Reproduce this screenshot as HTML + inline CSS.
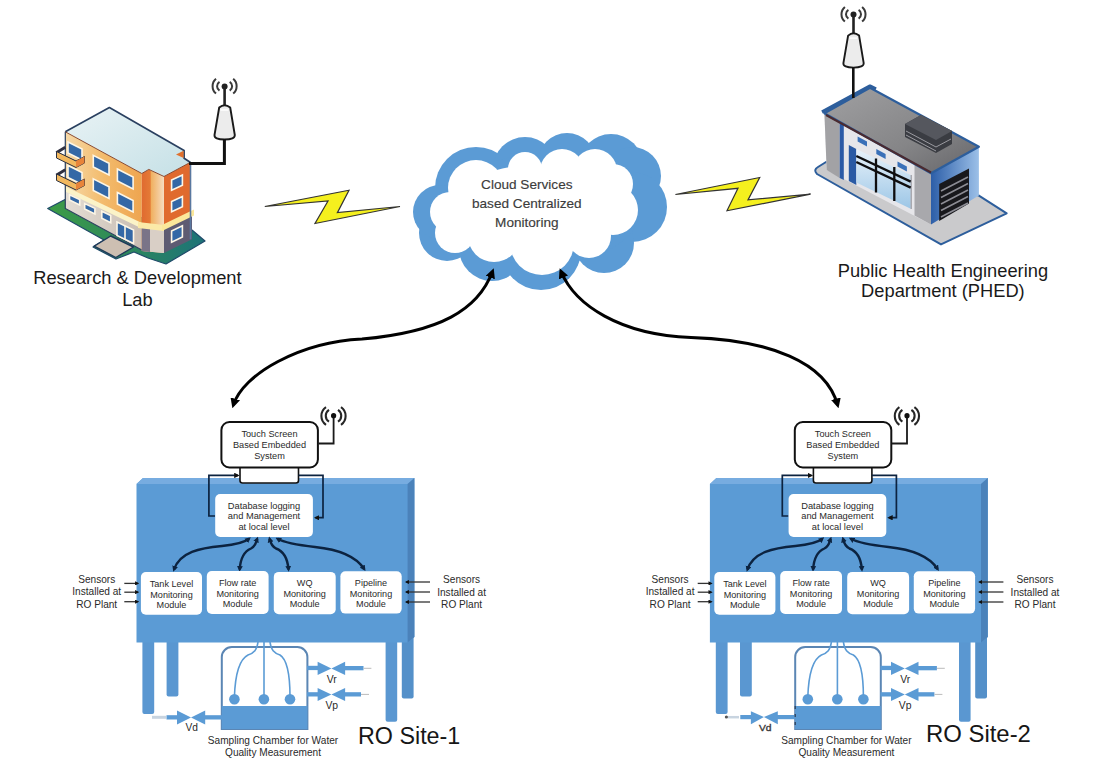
<!DOCTYPE html>
<html><head><meta charset="utf-8">
<style>
html,body{margin:0;padding:0;background:#fff;width:1104px;height:765px;overflow:hidden}
svg{position:absolute;left:0;top:0;display:block}
text{font-family:"Liberation Sans",sans-serif}
</style></head>
<body>
<svg width="1104" height="765" viewBox="0 0 1104 765">
<defs>
<marker id="ah" viewBox="0 0 10 10" refX="6.5" refY="5" markerWidth="3.3" markerHeight="3.3" orient="auto-start-reverse" markerUnits="strokeWidth">
<path d="M0,0 L10,5 L0,10 z" fill="#000"/></marker>
<marker id="ahn" viewBox="0 0 10 10" refX="6" refY="5" markerWidth="2.4" markerHeight="2.6" orient="auto-start-reverse" markerUnits="strokeWidth">
<path d="M0,0 L10,5 L0,10 z" fill="#0c2340"/></marker>
<marker id="ahs" viewBox="0 0 10 10" refX="7" refY="5" markerWidth="3.2" markerHeight="3.2" orient="auto" markerUnits="strokeWidth">
<path d="M0,0 L10,5 L0,10 z" fill="#111"/></marker>


<g id="ant">
  <circle cx="224.6" cy="86.5" r="3" fill="#222"/>
  <path d="M219.5,81.8 A5.2,5.2 0 0 0 219.5,90.6 M229.7,81.8 A5.2,5.2 0 0 1 229.7,90.6 M216,78.8 A9.6,9.6 0 0 0 216,93.5 M233.2,78.8 A9.6,9.6 0 0 1 233.2,93.5" fill="none" stroke="#3a3a3a" stroke-width="2"/>
  <path d="M224.6,86.5 V107" stroke="#222" stroke-width="2.6"/>
  <path d="M219.2,107.5 Q224.6,102.8 230.2,107.5 L234.8,135 Q235,139.5 224.6,139.5 Q214,139.5 214.5,135 Z" fill="#ececec" stroke="#1a1a1a" stroke-width="1.9" stroke-linejoin="round"/>
  <path d="M220.5,110 H228.5" stroke="#fff" stroke-width="1.5"/>
</g>
<linearGradient id="gOr" x1="0" y1="0" x2="1" y2="0"><stop offset="0" stop-color="#f6d9a8"/><stop offset="0.5" stop-color="#f3bb6c"/><stop offset="1" stop-color="#eea550"/></linearGradient>
<linearGradient id="gCol" x1="0" y1="0" x2="1" y2="0"><stop offset="0" stop-color="#e06a30"/><stop offset="0.38" stop-color="#e47a36"/><stop offset="0.42" stop-color="#f0b060"/><stop offset="1" stop-color="#f6dcc0"/></linearGradient>
<linearGradient id="gRoof" x1="0" y1="0" x2="1" y2="1"><stop offset="0" stop-color="#e9f3f5"/><stop offset="1" stop-color="#c5e0e6"/></linearGradient>
<linearGradient id="gGnd" x1="0" y1="0" x2="1" y2="0"><stop offset="0" stop-color="#3d9c45"/><stop offset="0.45" stop-color="#2f8a5a"/><stop offset="1" stop-color="#1d7278"/></linearGradient>
<linearGradient id="gBase" x1="0" y1="0" x2="1" y2="0"><stop offset="0" stop-color="#e4ddd4"/><stop offset="1" stop-color="#c9bdb3"/></linearGradient>
<linearGradient id="gPRoof" x1="0" y1="0" x2="1" y2="1"><stop offset="0" stop-color="#a0a0a2"/><stop offset="0.6" stop-color="#858587"/><stop offset="1" stop-color="#656569"/></linearGradient>
<linearGradient id="gPBlue" x1="0" y1="0" x2="1" y2="0"><stop offset="0" stop-color="#2c5ea8"/><stop offset="1" stop-color="#9cc0e8"/></linearGradient>
<linearGradient id="gGlass" x1="0" y1="0" x2="0" y2="1"><stop offset="0" stop-color="#e8f2fa"/><stop offset="1" stop-color="#9cc6e6"/></linearGradient>

<g id="site">
  <!-- legs -->
  <rect x="142.4" y="640" width="11.8" height="74" rx="2" fill="#5a97d1"/>
  <rect x="166.6" y="640" width="11.8" height="56.5" rx="2" fill="#5a97d1"/>
  <rect x="385.6" y="640" width="11.6" height="81.7" rx="2" fill="#5a97d1"/>
  <rect x="401.8" y="636" width="11.8" height="62.4" rx="2" fill="#5490c9"/>
  <!-- board -->
  <polygon points="136.5,484 143,478 414.4,478 414.4,637 407.6,642.5 136.5,642.5" fill="#5b9bd5"/>
  <polygon points="136.5,484 143,478 414.4,478 407.6,484" fill="#77ace0"/>
  <polygon points="407.6,484 414.4,478 414.4,637 407.6,642.5" fill="#4b82ba"/>

  <!-- touch screen -->
  <rect x="240" y="466" width="58.5" height="17" rx="2.5" fill="#fff" stroke="#111" stroke-width="1.6"/>
  <rect x="221.4" y="422" width="96.5" height="45.5" rx="8" fill="#fff" stroke="#111" stroke-width="2"/>
  <text x="269.5" y="436.5" font-size="9.2" fill="#2a2a2a" text-anchor="middle">Touch Screen</text>
  <text x="269.5" y="447.7" font-size="9.2" fill="#2a2a2a" text-anchor="middle">Based Embedded</text>
  <text x="269.5" y="458.9" font-size="9.2" fill="#2a2a2a" text-anchor="middle">System</text>
  <!-- antenna -->
  <path d="M318.5,443.5 H333.6 V416" fill="none" stroke="#1a1a1a" stroke-width="1.8"/>
  <circle cx="333.6" cy="415.7" r="2.6" fill="#111"/>
  <path d="M329,409.8 A7,7 0 0 0 329,421.6 M338,409.8 A7,7 0 0 1 338,421.6 M326,407.2 A10.7,10.7 0 0 0 326,424.8 M341,407.2 A10.7,10.7 0 0 1 341,424.8" fill="none" stroke="#262626" stroke-width="2.1"/>

  <!-- connectors -->
  <path d="M215,516 H208.9 V475.4 H238" fill="none" stroke="#0c2340" stroke-width="1.7" marker-end="url(#ahs)"/>
  <path d="M298.5,475.4 H323 V517.7 H315.5" fill="none" stroke="#0c2340" stroke-width="1.7" marker-end="url(#ahs)"/>

  <!-- database -->
  <rect x="215.2" y="494" width="97.7" height="43" rx="5" fill="#fff"/>
  <text x="264" y="508.8" font-size="9.3" fill="#2a2a2a" text-anchor="middle">Database logging</text>
  <text x="264" y="519.4" font-size="9.3" fill="#2a2a2a" text-anchor="middle">and Management</text>
  <text x="264" y="529.8" font-size="9.3" fill="#2a2a2a" text-anchor="middle">at local level</text>

  <!-- module arrows -->
  <g fill="none" stroke="#0c2340" stroke-width="2.4" marker-start="url(#ahn)" marker-end="url(#ahn)">
  <path d="M174,569.5 C180,552 200,548 222,546 C238,544.5 245,542 249,538.8"/>
  <path d="M239.7,569.5 C240.5,557 245,551 251,548.5 C256,546 256,542 257.2,538.8"/>
  <path d="M288.5,569.5 C287.5,557 283,551 276,548.5 C271,546 270.5,542 269.6,538.8"/>
  <path d="M364.2,569 C355,555 335,549 315,547 C297,545 285,543 277.5,538.8"/>
  </g>
<!-- modules -->
  <rect x="140.9" y="572" width="61.1" height="42.7" rx="5" fill="#fff"/>
  <rect x="206.8" y="571" width="61.8" height="43" rx="5" fill="#fff"/>
  <rect x="273.8" y="571.9" width="61.9" height="42.3" rx="5" fill="#fff"/>
  <rect x="340.4" y="571.2" width="61.3" height="42.4" rx="5" fill="#fff"/>
  <g font-size="9.1" fill="#2a2a2a" text-anchor="middle">
    <text x="171.5" y="586.7">Tank Level</text><text x="171.5" y="597.5">Monitoring</text><text x="171.5" y="607.8">Module</text>
    <text x="237.7" y="585.8">Flow rate</text><text x="237.7" y="596.6">Monitoring</text><text x="237.7" y="606.9">Module</text>
    <text x="304.7" y="586">WQ</text><text x="304.7" y="596.8">Monitoring</text><text x="304.7" y="607.1">Module</text>
    <text x="371" y="585.8">Pipeline</text><text x="371" y="596.6">Monitoring</text><text x="371" y="606.9">Module</text>
  </g>

  <!-- sensors -->
  <g font-size="10.1" fill="#2a2a2a" text-anchor="middle">
    <text x="96.7" y="582.6">Sensors</text><text x="96.7" y="595.3">Installed at</text><text x="96.7" y="607.6">RO Plant</text>
    <text x="461.6" y="583.1">Sensors</text><text x="461.6" y="595.8">Installed at</text><text x="461.6" y="608.4">RO Plant</text>
  </g>
  <g fill="none" stroke="#333" stroke-width="1.3">
    <path d="M124.3,583.4 H138" marker-end="url(#ahs)"/>
    <path d="M124.3,592.2 H138" marker-end="url(#ahs)"/>
    <path d="M124.3,601.7 H138" marker-end="url(#ahs)"/>
    <path d="M430,582 H406" marker-end="url(#ahs)"/>
    <path d="M430,592 H406" marker-end="url(#ahs)"/>
    <path d="M430,602 H406" marker-end="url(#ahs)"/>
  </g>

  <!-- sampling chamber -->
  <path d="M221.8,729 V657 a10,10 0 0 1 10,-10 H297.4 a10,10 0 0 1 10,10 V729 Z" fill="#fff" stroke="#5b86b4" stroke-width="2"/>
  <rect x="221.8" y="706" width="85.6" height="23" fill="#5b9bd5"/>
  <g fill="none" stroke="#5b9bd5" stroke-width="1.6">
    <path d="M258,642 C257,650 254,653 248,655 C238,660 235,680 234.4,697"/>
    <path d="M264,642 V697"/>
    <path d="M270,642 C271,650 274,653 280,655 C288,660 290,680 290,697"/>
  </g>
  <circle cx="234.4" cy="699.3" r="5.3" fill="#5b9bd5"/>
  <circle cx="263.9" cy="699.3" r="5.3" fill="#5b9bd5"/>
  <circle cx="290" cy="699.3" r="5.3" fill="#5b9bd5"/>

  <!-- valves -->
  <g fill="#5b9bd5">
    <rect x="307" y="665.8" width="12" height="4.3"/>
    <polygon points="317.6,661.8 331.4,668.4 317.6,675.1"/>
    <polygon points="345.1,661.8 331.4,668.4 345.1,675.1"/>
    <rect x="344" y="666" width="19.5" height="4.3"/>
    <rect x="307" y="692.2" width="12" height="4.3"/>
    <polygon points="317.6,688 331.4,694.5 317.6,701"/>
    <polygon points="345.1,688 331.4,694.5 345.1,701"/>
    <rect x="344" y="692.2" width="17" height="4.3"/>
  </g>
  <path d="M363.5,668.3 H371.4 M361,694.4 H369" stroke="#bbb" stroke-width="1"/>
  <g font-size="10.4" fill="#2a2a2a" text-anchor="middle">
    <text x="331.8" y="682.8">Vr</text>
    <text x="331.8" y="708.8">Vp</text>
  </g>
  <text x="273" y="743.6" font-size="10.1" fill="#2a2a2a" text-anchor="middle">Sampling Chamber for Water</text>
  <text x="273" y="755.6" font-size="10.1" fill="#2a2a2a" text-anchor="middle">Quality Measurement</text>
</g>
</defs>

<!-- site 1 -->
<use href="#site"/>
<!-- drain site 1 -->
<g fill="#5b9bd5">
  <rect x="166.5" y="715.2" width="12" height="4.3"/>
  <polygon points="177,710.6 191,717.4 177,724.4"/>
  <polygon points="205.2,710.6 191,717.4 205.2,724.4"/>
  <rect x="204" y="715.2" width="18" height="4.3"/>
</g>
<path d="M152,717.3 H166" stroke="#c8d4e0" stroke-width="3"/>
<text x="191.8" y="731" font-size="10.2" fill="#2a2a2a" text-anchor="middle">Vd</text>
<text x="358" y="744" font-size="23.3" fill="#161616">RO Site-1</text>

<!-- site 2 -->
<use href="#site" transform="translate(573.4,0)"/>
<text x="926" y="742.4" font-size="23.9" fill="#161616">RO Site-2</text>
<g fill="#5b9bd5">
  <rect x="740.3" y="715" width="11" height="4.2"/>
  <polygon points="750.9,711.3 763.9,717.1 750.9,724.3"/>
  <polygon points="777.8,711.3 763.9,717.1 777.8,724.3"/>
  <rect x="777" y="715" width="18" height="4.2"/>
</g>
<path d="M728,717.2 H739" stroke="#c8d4e0" stroke-width="2.5"/>
<circle cx="726.4" cy="717" r="1.6" fill="#555"/>
<text x="765.2" y="731.2" font-size="10.3" fill="#3a3a3a" stroke="#3a3a3a" stroke-width="0.4" text-anchor="middle" transform="translate(0,727.3) scale(1,0.85) translate(0,-727.3)">Vd</text>
<path d="M795.2,706 V729" stroke="#2a3a50" stroke-width="1.2" stroke-dasharray="3,5"/>




<!-- R&D building -->
<g id="rnd">
  <polygon points="47.7,208.5 66,199 192,230 205,241 166,264 148,258 134,252 116,259 93,247 104,240" fill="url(#gGnd)" stroke="#1f4a6a" stroke-width="1.2" stroke-linejoin="round"/>
  <!-- left face -->
  <polygon points="65.3,131.8 141.8,173.5 141.8,250 65.3,208.5" fill="url(#gOr)"/>
  <polygon points="65.3,189 141.8,227 141.8,250 65.3,208.5" fill="url(#gBase)"/>
  <polygon points="65.3,186.5 141.8,223 141.8,228.5 65.3,191.5" fill="#fbf3c8"/>
  <path d="M65.3,131.8 V208.5 L141.8,250" fill="none" stroke="#2a4060" stroke-width="1.2"/>
  <!-- column -->
  <polygon points="141.8,173.5 148.8,169.4 164,176.5 164,253 141.8,251" fill="url(#gCol)"/>
  <polygon points="141.8,227 164,229 164,253 141.8,251" fill="#d9cfc6"/>
  <polygon points="141.8,227 150,228 150,252 141.8,251" fill="#7a7488"/>
  <polygon points="138,222 164,225 164,231 138,228" fill="#fbeaa8"/>
  <!-- right face -->
  <polygon points="164,176.5 190,162.5 190,214 164,228" fill="#e06a2e"/>
  <polygon points="164,228 192,214 192,239.3 164,253" fill="#5e5b72"/>
  <polygon points="162,225 194,209.5 194,215.5 162,231" fill="#fbe79a"/>
  <path d="M190.5,162.5 V239.3" stroke="#5a78a0" stroke-width="1.6"/>
  <!-- roof -->
  <polygon points="65.3,131.8 109.4,107.6 184.1,150.6 184.1,158.2 190,162.5 164,176.5 148.8,169.4 141.8,173.5" fill="url(#gRoof)"/>
  <path d="M65.3,131.8 L109.4,107.6 L184.1,150.6 V158.2 L190.5,162.5" fill="none" stroke="#2a4060" stroke-width="1.7" stroke-linejoin="round"/>
  <path d="M65.3,131.8 L141.8,173.5 L148.8,169.4 L164,176.5 L190,162.5" fill="none" stroke="#8a4a30" stroke-width="1"/>
  <polygon points="176,154.5 183.6,150.8 183.6,158" fill="#e0702e"/>
  <!-- windows -->
  <g fill="#3468a6" stroke="#fdf6e6" stroke-width="1.6">
    <polygon points="93.3,155.4 109,163.3 109,175 93.3,167"/>
    <polygon points="117.4,169 133.1,177 133.1,189 117.4,181"/>
    <polygon points="93.3,178.9 109,186.8 109,198.5 93.3,190.5"/>
    <polygon points="117.4,192.5 133.1,200.5 133.1,212 117.4,204"/>
    <polygon points="68,142 82,149 82,160 68,153"/>
    <polygon points="68,165.5 82,172.5 82,184.5 68,177.5"/>
    <polygon points="69.5,194.7 79.7,199.5 79.7,205 69.5,200"/>
    <polygon points="84.7,203.6 94.9,208.4 94.9,214 84.7,209"/>
    <polygon points="101.8,211.2 110.7,215.5 110.7,222.6 101.8,218.3"/>
    <polygon points="117,222 133.5,230 133.5,243.5 117,235.5"/>
    <polygon points="171.6,180 182.4,175 182.4,185.3 171.6,190.3"/>
    <polygon points="171.6,201.6 182.4,196.6 182.4,206.8 171.6,211.8"/>
    <polygon points="171.6,231 182.4,225.8 182.4,237 171.6,242.3"/>
  </g>
  <path d="M125,226 V240" stroke="#fdf6e6" stroke-width="1.6"/>
  <!-- balconies -->
  <g id="balc">
    <polygon points="55.5,151.5 64.5,146 66,148.5 58,153.5" fill="#2f3040"/><path d="M58,153 L76,162 L84.5,157.5" fill="none" stroke="#2f3040" stroke-width="1.6"/>
    <polygon points="56.5,151.5 76,161 84.5,156.5 84.5,163 76,167.5 56.5,158" fill="#f2b85e" stroke="#2a3040" stroke-width="1" stroke-linejoin="round"/>
    <polygon points="76,161 84.5,156.5 84.5,163 76,167.5" fill="#e8843a"/>
  </g>
  <use href="#balc" transform="translate(0,22.5)"/>
  <!-- entrance step -->
  <polygon points="94.2,246.1 110.7,236 133.5,247 115.8,257.5" fill="#cdbfb2" stroke="#1f3a5a" stroke-width="1.4" stroke-linejoin="round"/>
</g>
<use href="#ant"/>
<path d="M224.4,139 V163.5 H189" fill="none" stroke="#111" stroke-width="3"/>

<!-- PHED building -->
<g id="phed">
  <path d="M818,167 Q813,170 817,174 L941,244.4 L1006.7,213.3 L978.9,195.6 L826,162 Z" fill="#cacacc" stroke="#2d5e9c" stroke-width="2" stroke-linejoin="round"/>
  <!-- left face -->
  <polygon points="824.4,113.3 931,173.3 931,224.4 826.7,170" fill="#e6e6ea"/>
  <polygon points="824.4,113.3 839.7,121.5 839.7,178 826.7,170" fill="#a2a2a5"/>
  <polygon points="839.7,121.5 843.8,123.8 843.8,180 839.7,178" fill="#2b5aa6"/>
  <polygon points="914.5,164 931,173.3 931,224.4 914.5,215.5" fill="#a8a8ac"/>
  <polygon points="848.8,145 856.3,149 856.3,185 848.8,181" fill="#2a5aa4"/>
  <polygon points="856.3,149 910.7,175 910.7,208.8 856.3,182.5" fill="url(#gGlass)"/>
  <path d="M911.2,175 V209" stroke="#9a9aa0" stroke-width="1.2"/>
  <g stroke="#0e0e10" stroke-width="2.3" fill="none">
    <path d="M856.3,156 L910.7,181.6 M856.3,162 L910.7,187.6"/>
    <path d="M876,158.5 V192.5 M894.3,167 V201"/>
  </g>
  <g fill="#3a70b8">
    <polygon points="857.6,136.5 867,141.5 867,146.5 857.6,141.5"/>
    <polygon points="876.3,149 885.6,154 885.6,159 876.3,154"/>
    <polygon points="897.5,161.5 906.9,166.5 906.9,171.5 897.5,166.5"/>
  </g>
  <!-- right face -->
  <polygon points="931,173.3 978.9,146.7 978.9,195.6 931,224.4" fill="url(#gPBlue)"/>
  <polygon points="939.2,184 969,168.4 969,203.4 939.2,221" fill="#18181c"/>
  <g stroke="#8c8c94" stroke-width="1.6">
    <path d="M941,191 L968,177 M941,197.5 L968,183.5 M941,204 L968,190 M941,210.5 L968,196.5 M941,217 L968,203"/>
  </g>
  <!-- roof -->
  <polygon points="824.4,113.3 870,87.8 978.9,146.7 931,173.3" fill="url(#gPRoof)" stroke="#2d5e9c" stroke-width="2.2" stroke-linejoin="round"/>
  <path d="M822,112 L870,86 L876,89" fill="none" stroke="#2d5e9c" stroke-width="3.2" stroke-linejoin="round"/>
  <path d="M826,115 L931,172.5" stroke="#4a2a30" stroke-width="2"/>
  <!-- rooftop unit -->
  <polygon points="905,124 921,115 952,131 952,144 936,153 905,137" fill="#3a3c42"/>
  <polygon points="905,124 921,115 952,131 936,140" fill="#55575e"/>
  <path d="M906,131 L936,147 L951,139 M906,135 L936,151" stroke="#9a9aa0" stroke-width="1" fill="none"/>
</g>
<use href="#ant" transform="translate(628.9,-71.9)"/>
<path d="M853.3,67 V98" stroke="#111" stroke-width="2.6"/>

<!-- cloud -->
<g id="cloud">
  <g fill="#5b9bd5">
    <circle cx="476" cy="188" r="41"/>
    <circle cx="525" cy="169" r="32"/>
    <circle cx="567" cy="162" r="29"/>
    <circle cx="611" cy="166" r="32"/>
    <circle cx="632" cy="176" r="29"/>
    <circle cx="632" cy="207" r="35"/>
    <circle cx="604" cy="243" r="30"/>
    <circle cx="541" cy="250" r="40"/>
    <circle cx="492" cy="248" r="33"/>
    <circle cx="447" cy="233" r="28"/>
    <circle cx="440" cy="212" r="27"/>
    <ellipse cx="540" cy="210" rx="100" ry="55"/>
  </g>
  <g fill="#fff">
    <circle cx="476" cy="188" r="28"/>
    <circle cx="525" cy="169" r="17"/>
    <circle cx="562" cy="171" r="22"/>
    <circle cx="595" cy="171" r="22"/>
    <circle cx="613" cy="184" r="20"/>
    <circle cx="613" cy="210" r="25"/>
    <circle cx="589" cy="236" r="22"/>
    <circle cx="542" cy="243" r="32"/>
    <circle cx="494" cy="236" r="26"/>
    <circle cx="455" cy="233" r="20"/>
    <circle cx="450" cy="212" r="20"/>
    <ellipse cx="535" cy="210" rx="85" ry="45"/>
  </g>
  <g font-size="13.6" fill="#3c3c3c" stroke="#3c3c3c" stroke-width="0.15" text-anchor="middle">
    <text x="526.8" y="189.1">Cloud Services</text>
    <text x="526.8" y="207.5">based Centralized</text>
    <text x="526.8" y="226.6">Monitoring</text>
  </g>
</g>
<!-- big arrows -->
<path d="M233.4,405 C243,374 300,342 362,339 C440,332 478,310 492.5,271.5" fill="none" stroke="#000" stroke-width="3" marker-start="url(#ah)" marker-end="url(#ah)"/>
<path d="M561,271.5 C575,305 620,335 691,337.4 C770,340 826,362 837.6,405" fill="none" stroke="#000" stroke-width="3" marker-start="url(#ah)" marker-end="url(#ah)"/>
<!-- bolts -->
<polygon points="264.8,206.5 349,190.2 337.4,212.6 400,206.5 315,223.5 328,201" fill="#f5f01e" stroke="#333" stroke-width="1.2" stroke-linejoin="miter"/>
<polygon points="675.4,194.5 759.7,177.5 748,199.9 810.6,194.2 727,210.8 738,188.3" fill="#f5f01e" stroke="#333" stroke-width="1.2"/>
<!-- labels -->
<g font-size="18.3" fill="#1a1a1a" text-anchor="middle">
  <text x="137.4" y="284.3">Research &amp; Development</text>
  <text x="137.4" y="306">Lab</text>
  <text x="942.9" y="277.2">Public Health Engineering</text>
  <text x="942.9" y="296.7">Department (PHED)</text>
</g>
</svg>
</body></html>
